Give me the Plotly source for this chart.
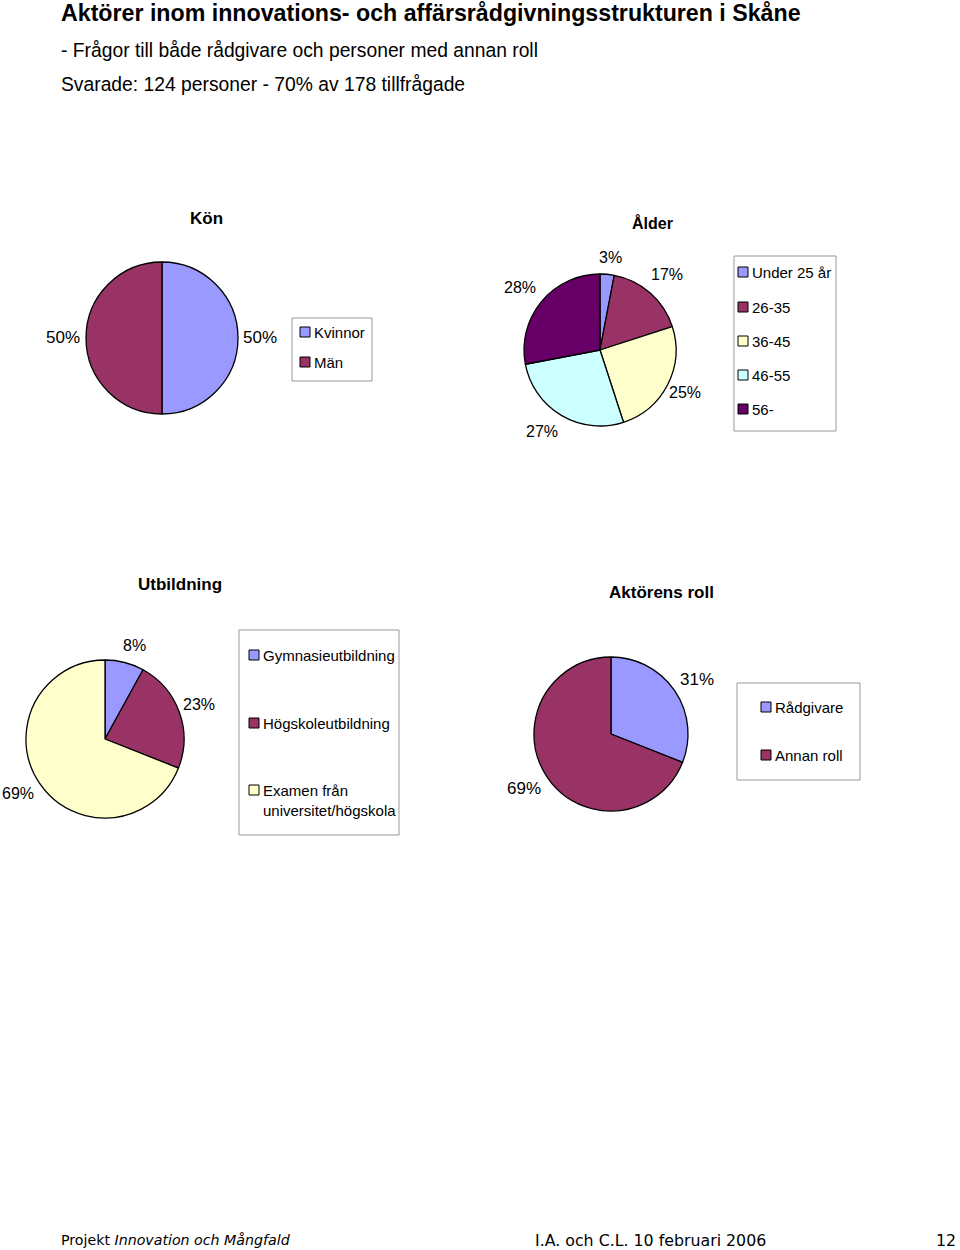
import plotly.graph_objects as go

W, H = 960, 1250

# ---- data ----
kon_labels = ["Kvinnor", "Män"]
kon_values = [50, 50]

alder_labels = ["Under 25 år", "26-35", "36-45", "46-55", "56-"]
alder_values = [3, 17, 25, 27, 28]

utb_labels = ["Gymnasieutbildning", "Högskoleutbildning", "Examen från<br>universitet/högskola"]
utb_values = [8, 23, 69]

roll_labels = ["Rådgivare", "Annan roll"]
roll_values = [31, 69]

C_BLUE = "#9999FF"
C_MAROON = "#993366"
C_YELLOW = "#FFFFCC"
C_CYAN = "#CCFFFF"
C_PURPLE = "#660066"

FONT = "Liberation Sans"


def px(x):
    return x / W


def py(y):
    return 1 - y / H


fig = go.Figure()
annotations = []
shapes = []


def add_pie(values, labels, colors, cx, cy, r):
    fig.add_trace(go.Pie(
        values=values, labels=labels, sort=False, direction="clockwise", rotation=0,
        marker=dict(colors=colors, line=dict(color="black", width=1.3)),
        textinfo="none", hoverinfo="label+percent", showlegend=False,
        domain=dict(x=[px(cx - r), px(cx + r)], y=[py(cy + r), py(cy - r)]),
    ))


def text(x, y, s, size=16, bold=False, xanchor="center", family=FONT):
    if bold:
        s = "<b>" + s + "</b>"
    annotations.append(dict(x=px(x), y=py(y), xref="paper", yref="paper", text=s,
                            showarrow=False, xanchor=xanchor, yanchor="middle",
                            font=dict(family=family, size=size, color="black")))


def legend(box, items, colors, sq_x, size=15):
    x0, y0, x1, y1 = box
    shapes.append(dict(type="rect", xref="paper", yref="paper", x0=px(x0), x1=px(x1),
                       y0=py(y1), y1=py(y0), line=dict(color="#999999", width=1),
                       fillcolor="white", layer="below"))
    for (label, yy), c in zip(items, colors):
        shapes.append(dict(type="rect", xref="paper", yref="paper",
                           x0=px(sq_x), x1=px(sq_x + 10), y0=py(yy + 5), y1=py(yy - 5),
                           line=dict(color="black", width=1), fillcolor=c))
        annotations.append(dict(x=px(sq_x + 12), y=py(yy - 10), xref="paper", yref="paper",
                                text=label, showarrow=False, xanchor="left", yanchor="top",
                                align="left",
                                font=dict(family=FONT, size=size, color="black")))


# ---- Kön ----
add_pie(kon_values, kon_labels, [C_BLUE, C_MAROON], 162, 338, 76)
text(206, 218, "Kön", 17, True)
text(260, 337, f"{kon_values[0]}%", 17)
text(63, 337, f"{kon_values[1]}%", 17)
legend((292, 318, 372, 381), [(kon_labels[0], 332), (kon_labels[1], 362)],
       [C_BLUE, C_MAROON], 300)

# ---- Ålder ----
add_pie(alder_values, alder_labels, [C_BLUE, C_MAROON, C_YELLOW, C_CYAN, C_PURPLE], 600, 350, 76)
text(652, 223, "Ålder", 16, True)
alder_pos = [(610, 257), (667, 275), (685, 392), (542, 431), (520, 288)]
for v, (x, y) in zip(alder_values, alder_pos):
    text(x, y, f"{v}%", 16)
legend((734, 256, 836, 431),
       [(l, y) for l, y in zip(alder_labels, [272, 307, 341, 375, 409])],
       [C_BLUE, C_MAROON, C_YELLOW, C_CYAN, C_PURPLE], 738)

# ---- Utbildning ----
add_pie(utb_values, utb_labels, [C_BLUE, C_MAROON, C_YELLOW], 105, 739, 79)
text(180, 584, "Utbildning", 17, True)
utb_pos = [(134, 645), (199, 705), (18, 793)]
for v, (x, y) in zip(utb_values, utb_pos):
    text(x, y, f"{v}%", 16)
legend((239, 630, 399, 835),
       [(utb_labels[0], 655), (utb_labels[1], 723), (utb_labels[2], 790)],
       [C_BLUE, C_MAROON, C_YELLOW], 249)

# ---- Aktörens roll ----
add_pie(roll_values, roll_labels, [C_BLUE, C_MAROON], 611, 734, 77)
text(661, 592, "Aktörens roll", 17, True)
text(697, 679, f"{roll_values[0]}%", 17)
text(524, 788, f"{roll_values[1]}%", 17)
legend((737, 683, 860, 780), [(roll_labels[0], 707), (roll_labels[1], 755)],
       [C_BLUE, C_MAROON], 761)

# ---- header ----
annotations.append(dict(x=px(59), y=py(13), xref="paper", yref="paper",
                        text="<b>Aktörer inom innovations- och affärsrådgivningsstrukturen i Skåne</b>",
                        showarrow=False, xanchor="left", yanchor="middle",
                        font=dict(family=FONT, size=23.2, color="black")))
text(59, 51, "- Frågor till både rådgivare och personer med annan roll", 19.3, xanchor="left")
text(59, 84, "Svarade: 124 personer - 70% av 178 tillfrågade", 19.3, xanchor="left")

# ---- footer ----
text(59, 1240, "Projekt <i>Innovation och Mångfald</i>", 14.2, xanchor="left", family="DejaVu Sans")
text(533, 1240, "I.A. och C.L. 10 februari 2006", 15.8, xanchor="left", family="DejaVu Sans")
text(958, 1240, "12", 15.8, xanchor="right", family="DejaVu Sans")

fig.update_layout(width=W, height=H, margin=dict(l=0, r=0, t=0, b=0),
                  paper_bgcolor="white", plot_bgcolor="white",
                  annotations=annotations, shapes=shapes, showlegend=False)

fig.write_html("out.html")
